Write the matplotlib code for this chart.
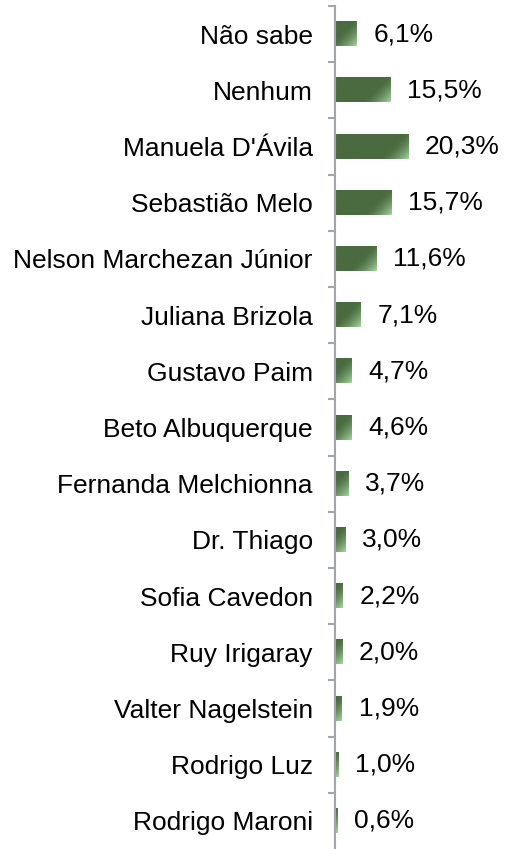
import matplotlib.pyplot as plt
import numpy as np

plt.rcParams['font.family'] = ['Liberation Sans', 'DejaVu Sans']

candidates = ['Não sabe', 'Nenhum', "Manuela D'Ávila", 'Sebastião Melo',
              'Nelson Marchezan Júnior', 'Juliana Brizola', 'Gustavo Paim',
              'Beto Albuquerque', 'Fernanda Melchionna', 'Dr. Thiago',
              'Sofia Cavedon', 'Ruy Irigaray', 'Valter Nagelstein',
              'Rodrigo Luz', 'Rodrigo Maroni']
values = [6.1, 15.5, 20.3, 15.7, 11.6, 7.1, 4.7, 4.6, 3.7, 3.0, 2.2, 2.0, 1.9, 1.0, 0.6]
labels = ['6,1%', '15,5%', '20,3%', '15,7%', '11,6%', '7,1%', '4,7%', '4,6%',
          '3,7%', '3,0%', '2,2%', '2,0%', '1,9%', '1,0%', '0,6%']

font = 19
axis_color = '#a2a6aa'
dark = np.array([0x4a, 0x6a, 0x40]) / 255
light = np.array([0xa8, 0xd8, 0xa2]) / 255

fig = plt.figure(figsize=(5.05, 8.49), dpi=100)
ax = fig.add_axes([335 / 505, 0, 170 / 505, 843 / 849])

px_per_unit = 3.6
bar_h = 0.43
bar_h_px = 24
y = np.arange(len(candidates))

for i, (v, lab) in enumerate(zip(values, labels)):
    w_px = max(int(round(v * px_per_unit)), 2)
    xx, yy = np.meshgrid(np.arange(w_px) + 0.5, np.arange(bar_h_px) + 0.5)
    d = (w_px - xx) + (bar_h_px - yy)
    t = np.clip(1 - d / 28, 0, 1) ** 1.5
    img = dark[None, None, :] + t[..., None] * (light - dark)[None, None, :]
    ax.imshow(img, extent=(0, v, i + bar_h / 2, i - bar_h / 2), origin='upper',
              aspect='auto', interpolation='bilinear', zorder=2)
    ax.annotate(lab, xy=(v, i), xytext=(12, 0), textcoords='offset points',
                ha='left', va='center', fontsize=font, color='black')

ax.set_xlim(0, 170 / px_per_unit)
ax.set_ylim(len(candidates) - 0.5, -0.5)

ax.set_yticks(y)
ax.set_yticklabels(candidates, fontsize=font)
ax.set_yticks(np.arange(len(candidates)) - 0.5, minor=True)
ax.tick_params(axis='y', which='major', length=0, pad=16)
ax.tick_params(axis='y', which='minor', length=5, width=1.5, color=axis_color)
ax.set_xticks([])

for s in ['top', 'right', 'bottom']:
    ax.spines[s].set_visible(False)
ax.spines['left'].set_color(axis_color)
ax.spines['left'].set_linewidth(1.5)

fig.savefig('out.png', dpi=100)
